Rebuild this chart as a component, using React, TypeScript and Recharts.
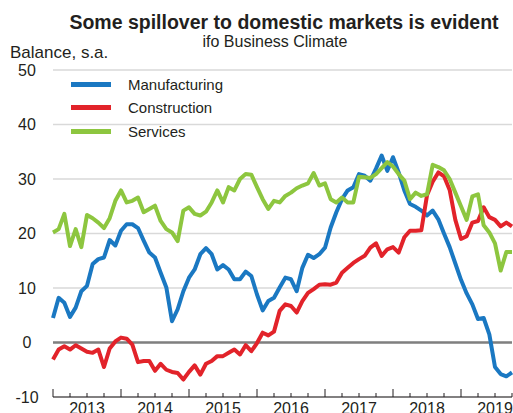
import React from 'react';
import { LineChart, Line, XAxis, YAxis, CartesianGrid, ReferenceLine, Legend } from 'recharts';

// Monthly ifo balances, Jan 2013 to Oct 2019
const manufacturing = [
  4.5, 8.2, 7.3, 4.7, 6.4, 9.4, 10.4, 14.4, 15.3, 15.6, 18.8, 17.8,
  20.5, 21.7, 21.7, 21.0, 18.7, 16.5, 15.6, 12.8, 10.1, 3.9, 6.1, 9.4,
  11.9, 13.4, 16.2, 17.3, 16.2, 13.4, 14.2, 13.4, 11.6, 11.6, 13.0, 12.2,
  8.8, 5.9, 7.6, 8.2, 10.1, 11.9, 11.6, 9.4, 13.7, 16.1, 15.5, 16.2,
  17.4, 21.1, 23.9, 26.3, 27.9, 28.5, 30.9, 30.6, 29.7, 31.9, 34.3, 31.5,
  34.0, 31.2, 27.9, 25.4, 24.9, 24.2, 23.3, 24.2, 22.6, 20.0, 17.5, 14.5,
  11.5, 9.0, 7.0, 4.3, 4.5, 1.5, -4.5, -5.8, -6.2, -5.5,
];
const construction = [
  -3.1, -1.3, -0.7, -1.3, -0.5, -1.1, -1.7, -1.9, -1.3, -4.5, -1.1, 0.2,
  0.9, 0.7, -0.4, -3.6, -3.4, -3.4, -5.2, -3.9, -5.0, -5.4, -5.6, -6.8,
  -5.4, -4.2, -5.9, -3.9, -3.4, -2.5, -2.5, -1.9, -1.3, -2.2, -0.5, -1.6,
  -0.1, 1.8, 1.3, 2.0, 5.8, 7.0, 6.7, 5.5, 7.6, 9.1, 9.8, 10.6,
  10.7, 10.6, 11.0, 12.8, 13.7, 14.6, 15.3, 15.9, 17.4, 18.2, 15.9, 17.1,
  17.5, 16.5, 19.3, 20.5, 20.5, 20.6, 27.0, 29.5, 31.2, 30.5, 28.0, 22.5,
  19.0, 19.5, 22.0, 22.3, 24.8, 23.0, 22.5, 21.3, 22.0, 21.3,
];
const services = [
  20.2, 20.8, 23.6, 17.7, 20.8, 17.5, 23.4, 22.8, 22.0, 21.0, 22.8, 26.0,
  27.9, 25.7, 26.0, 26.6, 23.9, 24.5, 25.1, 22.3, 20.8, 20.2, 18.6, 24.2,
  24.8, 23.6, 23.3, 24.0, 25.7, 27.9, 25.7, 28.5, 27.9, 30.0, 30.9, 30.8,
  28.5, 26.3, 24.5, 26.0, 25.7, 26.9, 27.5, 28.3, 28.8, 29.2, 31.1, 28.8,
  29.2, 26.3, 25.7, 26.6, 25.7, 25.7, 30.4, 30.3, 30.2, 30.9, 32.0, 33.1,
  32.3, 30.9, 29.7, 26.3, 27.5, 26.9, 27.2, 32.6, 32.2, 31.6, 30.0, 27.5,
  25.0, 22.5, 26.8, 27.2, 21.5, 20.2, 18.2, 13.2, 16.6, 16.6,
];
const years = ['2013', '2014', '2015', '2016', '2017', '2018', '2019'];
const yTicks = [-10, 0, 10, 20, 30, 40, 50];
const legendOrder = ['Manufacturing', 'Construction', 'Services'];

const data = manufacturing.map((m, i) => ({
  t: i,
  manufacturing: m,
  construction: construction[i],
  services: services[i],
}));

// quarterly ticks over the month axis
const xTicks = Array.from({ length: 28 }, (_, k) => k * 3);

const FONT = '"Liberation Sans", Arial, sans-serif';
const TEXT = '#231f20';

const XTick = (props: any) => {
  const { x, y, payload } = props;
  const v = payload.value as number;
  const major = v % 12 === 0;
  const label = v % 12 === 6 ? years[Math.floor(v / 12)] : null;
  return (
    <g>
      <line x1={x} x2={x} y1={y} y2={y - (major ? 8 : 4)} stroke={TEXT} strokeWidth={1} />
      {label && (
        <text x={x} y={y + 16.5} textAnchor="middle" fontSize={16} fontFamily={FONT} fill={TEXT}>
          {label}
        </text>
      )}
    </g>
  );
};

const YTick = (props: any) => {
  const { y, payload } = props;
  return (
    <text x={27} y={y} dy="0.36em" textAnchor="middle" fontSize={16} fontFamily={FONT} fill={TEXT}>
      {payload.value}
    </text>
  );
};

const LegendBox = (props: any) => {
  const items = [...(props.payload || [])].sort(
    (a: any, b: any) => legendOrder.indexOf(a.value) - legendOrder.indexOf(b.value)
  );
  return (
    <div style={{ fontFamily: FONT, fontSize: 15, color: TEXT }}>
      {items.map((p: any) => (
        <div key={p.value} style={{ display: 'flex', alignItems: 'center', height: 23.3 }}>
          <span style={{ display: 'inline-block', width: 40, height: 5, background: p.color, marginRight: 17 }} />
          <span>{p.value}</span>
        </div>
      ))}
    </div>
  );
};

export default function App() {
  return (
    <div style={{ position: 'absolute', left: 0, top: 0, width: 513, height: 413, background: '#fff' }}>
      <LineChart width={513} height={413} data={data} margin={{ top: 70, right: 1, bottom: 0, left: 0 }}>
        <CartesianGrid vertical={false} stroke="#d9d9d9" strokeWidth={1.5} />
        <XAxis
          dataKey="t"
          type="number"
          domain={[0, 81]}
          ticks={xTicks}
          interval={0}
          height={16}
          tickSize={0}
          tickMargin={0}
          tickLine={false}
          axisLine={{ stroke: TEXT, strokeWidth: 1.2 }}
          tick={<XTick />}
        />
        <YAxis
          type="number"
          domain={[-10, 50]}
          ticks={yTicks}
          interval={0}
          width={53}
          axisLine={false}
          tickLine={false}
          tick={<YTick />}
        />
        <ReferenceLine y={0} stroke="#7f7f7f" strokeWidth={2.5} />
        <Legend
          layout="vertical"
          align="center"
          verticalAlign="middle"
          content={<LegendBox />}
          wrapperStyle={{ position: 'absolute', left: 71, top: 73, width: 220, height: 72 }}
        />
        <Line type="linear" dataKey="manufacturing" name="Manufacturing" stroke="#1a78c2" strokeWidth={4} strokeLinejoin="round" dot={false} activeDot={false} isAnimationActive={false} />
        <Line type="linear" dataKey="construction" name="Construction" stroke="#e2232a" strokeWidth={4} strokeLinejoin="round" dot={false} activeDot={false} isAnimationActive={false} />
        <Line type="linear" dataKey="services" name="Services" stroke="#8dc63f" strokeWidth={4} strokeLinejoin="round" dot={false} activeDot={false} isAnimationActive={false} />
      </LineChart>
      <svg width={513} height={70} style={{ position: 'absolute', left: 0, top: 0, pointerEvents: 'none' }}>
        <text x={284} y={29} textAnchor="middle" fontSize={19.5} fontWeight="bold" fontFamily={FONT} fill={TEXT}>
          Some spillover to domestic markets is evident
        </text>
        <text x={275} y={47} textAnchor="middle" fontSize={16} fontFamily={FONT} fill={TEXT}>
          ifo Business Climate
        </text>
        <text x={10} y={58} fontSize={17} fontFamily={FONT} fill={TEXT}>
          Balance, s.a.
        </text>
      </svg>
    </div>
  );
}
